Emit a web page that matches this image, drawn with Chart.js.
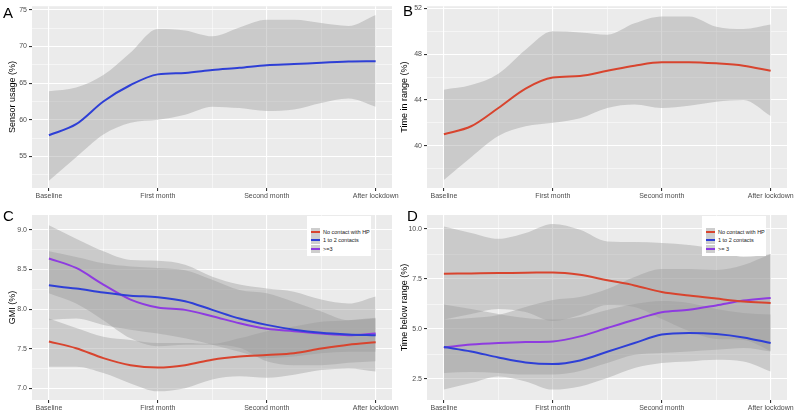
<!DOCTYPE html>
<html>
<head>
<meta charset="utf-8">
<script src="https://cdn.jsdelivr.net/npm/chart.js@4.4.1/dist/chart.umd.min.js"></script>
<style>
body { margin: 0; background: #fff; width: 795px; height: 412px; overflow: hidden; position: relative; font-family: "Liberation Sans", Arial, sans-serif; }
.panel { position: absolute; }
.tag { position: absolute; font-size: 15px; line-height: 15px; color: #000; }
.legend { position: absolute; background: #fff; width: 64px; height: 40px; }
.row { position: absolute; left: 4px; height: 8px; width: 60px; }
.key { position: absolute; left: 0; top: 0; width: 9px; height: 8px; background: #cecece; }
.key i { position: absolute; left: 0; top: 3px; width: 9px; height: 2px; }
.row span { position: absolute; left: 12px; top: 1px; font-size: 5.5px; line-height: 6px; color: #1a1a1a; white-space: nowrap; }
</style>
</head>
<body>

<div class="panel" style="left:0;top:0"><canvas id="cA" width="400" height="205"></canvas></div>
<div class="panel" style="left:395px;top:0"><canvas id="cB" width="400" height="205"></canvas></div>
<div class="panel" style="left:0;top:205px"><canvas id="cC" width="400" height="207"></canvas></div>
<div class="panel" style="left:395px;top:205px"><canvas id="cD" width="400" height="207"></canvas></div>

<div class="tag" style="left:3px;top:5px">A</div>
<div class="tag" style="left:403px;top:3px">B</div>
<div class="tag" style="left:3px;top:208px">C</div>
<div class="tag" style="left:407px;top:208px">D</div>

<div class="legend" id="legC" style="left:307px;top:216px"></div>
<div class="legend" id="legD" style="left:702px;top:216px"></div>

<script>
// categories on the x axis and the positions where the curves were read
const CATEGORIES = ['Baseline', 'First month', 'Second month', 'After lockdown'];
const XS = [0, 0.25, 0.5, 0.75, 1, 1.25, 1.5, 1.75, 2, 2.25, 2.5, 2.75, 3];
const X_GRID = [0, 0.5, 1, 1.5, 2, 2.5, 3];

// A - sensor usage
const sensorLine  = [57.9, 59.4, 62.5, 64.75, 66.2, 66.4, 66.8, 67.1, 67.45, 67.6, 67.8, 67.95, 68.0];
const sensorUpper = [63.9, 64.4, 66.1, 69.2, 72.4, 72.2, 71.4, 72.6, 73.65, 73.65, 73.2, 72.8, 74.3];
const sensorLower = [51.7, 54.9, 58.0, 59.6, 60.0, 60.7, 61.8, 61.6, 61.2, 61.4, 62.3, 62.9, 61.8];

// B - time in range
const tirLine  = [41.0, 41.7, 43.3, 45.0, 45.96, 46.1, 46.55, 47.0, 47.3, 47.3, 47.2, 47.0, 46.55];
const tirUpper = [44.9, 45.3, 46.3, 48.4, 50.0, 49.9, 49.7, 50.7, 51.3, 51.3, 50.4, 50.2, 50.6];
const tirLower = [37.0, 39.0, 40.85, 41.7, 42.0, 42.4, 43.3, 43.6, 43.3, 43.5, 43.85, 44.0, 42.6];

// C - GMI by contact group
const gmiNone   = [7.59, 7.505, 7.38, 7.29, 7.26, 7.29, 7.36, 7.40, 7.42, 7.44, 7.50, 7.55, 7.58];
const gmiNoneHi = [7.88, 7.76, 7.65, 7.61, 7.57, 7.57, 7.56, 7.63, 7.72, 7.78, 7.84, 7.86, 7.89];
const gmiNoneLo = [7.27, 7.27, 7.19, 7.06, 6.96, 7.0, 7.11, 7.15, 7.13, 7.17, 7.23, 7.25, 7.21];
const gmiOne    = [8.30, 8.26, 8.21, 8.17, 8.15, 8.10, 7.99, 7.88, 7.80, 7.74, 7.70, 7.68, 7.67];
const gmiOneHi  = [8.73, 8.66, 8.58, 8.54, 8.52, 8.49, 8.37, 8.24, 8.20, 8.09, 7.97, 7.86, 7.88];
const gmiOneLo  = [7.86, 7.88, 7.80, 7.74, 7.69, 7.63, 7.55, 7.46, 7.38, 7.40, 7.44, 7.46, 7.46];
const gmiThree   = [8.64, 8.52, 8.31, 8.12, 8.02, 7.99, 7.91, 7.82, 7.75, 7.72, 7.69, 7.67, 7.69];
const gmiThreeHi = [9.06, 8.89, 8.73, 8.62, 8.61, 8.56, 8.41, 8.31, 8.26, 8.22, 8.12, 8.07, 8.16];
const gmiThreeLo = [8.20, 8.07, 7.86, 7.63, 7.53, 7.55, 7.55, 7.51, 7.34, 7.29, 7.29, 7.32, 7.34];

// D - time below range by contact group
const tbrNone   = [7.76, 7.78, 7.8, 7.81, 7.83, 7.71, 7.44, 7.18, 6.85, 6.67, 6.52, 6.38, 6.3];
const tbrNoneHi = [10.13, 9.8, 9.51, 9.8, 10.25, 9.96, 9.38, 9.35, 9.3, 9.2, 9.0, 8.6, 8.75];
const tbrNoneLo = [5.47, 5.75, 6.0, 5.85, 5.4, 5.7, 6.2, 6.1, 5.5, 4.9, 4.5, 4.45, 3.9];
const tbrOne    = [4.1, 3.88, 3.58, 3.33, 3.25, 3.43, 3.86, 4.3, 4.72, 4.8, 4.75, 4.58, 4.3];
const tbrOneHi  = [6.22, 6.0, 5.75, 5.55, 5.47, 5.6, 5.95, 6.25, 6.4, 6.3, 6.0, 5.8, 5.72];
const tbrOneLo  = [1.97, 2.3, 2.63, 2.38, 1.97, 2.13, 2.55, 3.05, 3.3, 3.38, 3.46, 3.38, 2.88];
const tbrThree   = [4.08, 4.22, 4.3, 4.35, 4.38, 4.63, 5.05, 5.46, 5.84, 5.96, 6.18, 6.42, 6.55];
const tbrThreeHi = [5.47, 5.55, 5.7, 6.1, 6.45, 6.6, 7.0, 7.6, 8.0, 8.0, 7.95, 8.2, 8.75];
const tbrThreeLo = [2.8, 2.85, 2.8, 2.72, 2.72, 2.9, 3.3, 3.71, 3.8, 3.88, 3.96, 4.05, 3.88];

// y axis ticks
const ticksA = [55, 60, 65, 70, 75],        minorA = [52.5, 57.5, 62.5, 67.5, 72.5];
const ticksB = [40, 44, 48, 52],            minorB = [38, 42, 46, 50];
const ticksC = [7.0, 7.5, 8.0, 8.5, 9.0],   minorC = [7.25, 7.75, 8.25, 8.75];
const ticksD = [2.5, 5.0, 7.5, 10.0],       minorD = [3.75, 6.25, 8.75];

const RED = '#d8442e', BLUE = '#2e3fd6', PURPLE = '#8e3be0';
const BAND = 'rgba(153,153,153,0.4)';

function pts(arr) {
    return arr.map((v, i) => ({ x: XS[i], y: v }));
}

function band(lower, upper) {
    return [
        { data: pts(lower), borderWidth: 0, pointRadius: 0, fill: false, order: 2, cubicInterpolationMode: 'monotone' },
        { data: pts(upper), borderWidth: 0, pointRadius: 0, fill: '-1', backgroundColor: BAND, order: 2, cubicInterpolationMode: 'monotone' }
    ];
}

function line(arr, color) {
    return { data: pts(arr), borderColor: color, borderWidth: 2, pointRadius: 0, fill: false, order: 0, cubicInterpolationMode: 'monotone' };
}

// grey ggplot panel behind the grid
const panelBg = {
    id: 'panelBg',
    beforeDraw(chart) {
        const { ctx, chartArea: a } = chart;
        ctx.save();
        ctx.fillStyle = '#ebebeb';
        ctx.fillRect(a.left, a.top, a.width, a.height);
        ctx.restore();
    }
};

function makePanel(id, datasets, p) {
    const tickFont = { family: '"Liberation Sans", Arial, sans-serif', size: 7 };
    const allY = p.major.concat(p.minor).sort((a, b) => a - b);
    new Chart(document.getElementById(id), {
        type: 'line',
        data: { datasets: datasets },
        plugins: [panelBg],
        options: {
            responsive: false,
            animation: false,
            layout: { autoPadding: false, padding: { left: 0, right: 8, top: p.top, bottom: 0 } },
            plugins: { legend: { display: false }, tooltip: { enabled: false } },
            scales: {
                x: {
                    type: 'linear', min: -0.155, max: 3.15,
                    afterBuildTicks: s => { s.ticks = X_GRID.map(v => ({ value: v })); },
                    afterFit: s => { s.height = p.xh; },
                    ticks: {
                        autoSkip: false, maxRotation: 0, padding: 1, font: tickFont, color: '#4d4d4d',
                        callback: v => Number.isInteger(v) ? CATEGORIES[v] : ''
                    },
                    grid: {
                        color: '#ffffff',
                        lineWidth: c => Number.isInteger(c.tick.value) ? 1.1 : 0.5,
                        tickColor: c => Number.isInteger(c.tick.value) ? '#333333' : 'rgba(0,0,0,0)',
                        tickLength: 3
                    },
                    border: { display: false }
                },
                y: {
                    type: 'linear', min: p.min, max: p.max,
                    afterBuildTicks: s => { s.ticks = allY.map(v => ({ value: v })); },
                    afterFit: s => { s.width = 32; },
                    ticks: {
                        padding: 2, font: tickFont, color: '#4d4d4d',
                        callback: v => p.major.includes(v) ? v.toFixed(p.dec) : ''
                    },
                    grid: {
                        color: '#ffffff',
                        lineWidth: c => p.major.includes(c.tick.value) ? 1.1 : 0.5,
                        tickColor: c => p.major.includes(c.tick.value) ? '#333333' : 'rgba(0,0,0,0)',
                        tickLength: 3
                    },
                    border: { display: false },
                    title: {
                        display: true, text: p.title, color: '#000',
                        font: { family: '"Liberation Sans", Arial, sans-serif', size: 9 },
                        padding: { top: p.tpad, bottom: 0 }
                    }
                }
            }
        }
    });
}

makePanel('cA', [...band(sensorLower, sensorUpper), line(sensorLine, BLUE)],
    { min: 50.7, max: 75.5, major: ticksA, minor: minorA, dec: 0, title: 'Sensor usage (%)', top: 3, xh: 17, tpad: 7 });

makePanel('cB', [...band(tirLower, tirUpper), line(tirLine, RED)],
    { min: 36.3, max: 52.2, major: ticksB, minor: minorB, dec: 0, title: 'Time in range (%)', top: 3, xh: 17, tpad: 4 });

makePanel('cC', [
        ...band(gmiNoneLo, gmiNoneHi), ...band(gmiOneLo, gmiOneHi), ...band(gmiThreeLo, gmiThreeHi),
        line(gmiNone, RED), line(gmiOne, BLUE), line(gmiThree, PURPLE)],
    { min: 6.85, max: 9.19, major: ticksC, minor: minorC, dec: 1, title: 'GMI (%)', top: 10, xh: 12, tpad: 7 });

makePanel('cD', [
        ...band(tbrNoneLo, tbrNoneHi), ...band(tbrOneLo, tbrOneHi), ...band(tbrThreeLo, tbrThreeHi),
        line(tbrNone, RED), line(tbrOne, BLUE), line(tbrThree, PURPLE)],
    { min: 1.45, max: 10.7, major: ticksD, minor: minorD, dec: 1, title: 'Time below range (%)', top: 10, xh: 12, tpad: 4 });

// legends for the two group panels
function legend(id, labels) {
    const colors = [RED, BLUE, PURPLE];
    let html = '';
    labels.forEach((t, i) => {
        html += `<div class="row" style="top:${12 + i * 8.3}px"><div class="key"><i style="background:${colors[i]}"></i></div><span>${t}</span></div>`;
    });
    document.getElementById(id).innerHTML = html;
}
legend('legC', ['No contact with HP', '1 to 2 contacts', '>=3']);
legend('legD', ['No contact with HP', '1 to 2 contacts', '>= 3']);
</script>
</body>
</html>
